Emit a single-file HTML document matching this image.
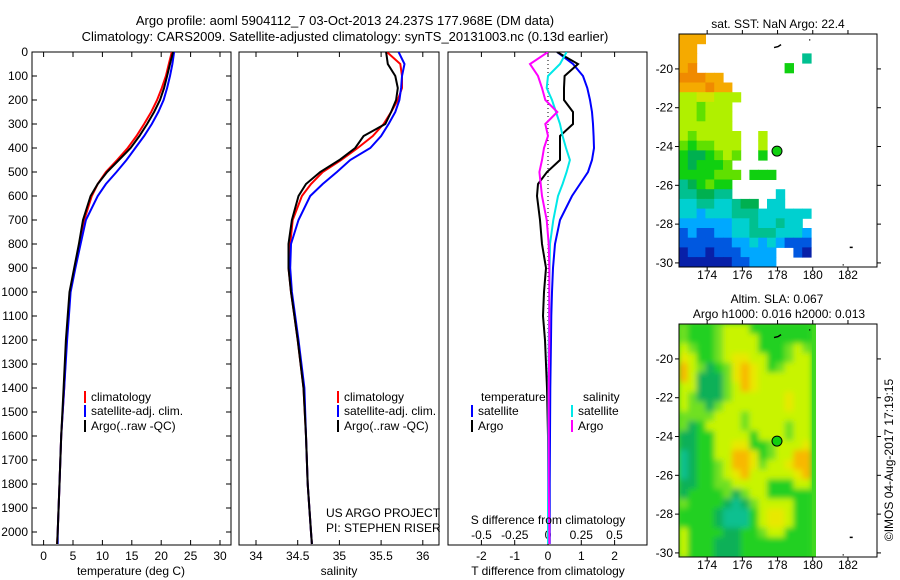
<!DOCTYPE html>
<html><head><meta charset="utf-8"><style>
html,body{margin:0;padding:0;background:#fff;width:900px;height:580px;overflow:hidden}
svg{display:block;font-family:"Liberation Sans",sans-serif;font-size:12px}
</style></head><body>
<svg id="chart" width="900" height="580" xmlns="http://www.w3.org/2000/svg">
<defs>
<clipPath id="cp1"><rect x="32" y="52" width="199" height="493"/></clipPath>
<clipPath id="cp2"><rect x="239" y="52" width="200" height="493"/></clipPath>
<clipPath id="cp3"><rect x="448" y="52" width="199" height="493"/></clipPath>
<clipPath id="cpm1"><rect x="679" y="34" width="198" height="233"/></clipPath>
<clipPath id="cpm2"><rect x="679" y="324" width="137" height="233"/></clipPath>
<filter id="blur" x="0" y="0" width="1" height="1"><feGaussianBlur stdDeviation="3" edgeMode="duplicate"/></filter>
</defs>
<text x="345" y="25" text-anchor="middle" font-size="13">Argo profile: aoml 5904112_7 03-Oct-2013 24.237S 177.968E (DM data)</text>
<text x="345" y="41" text-anchor="middle" font-size="13">Climatology: CARS2009. Satellite-adjusted climatology: synTS_20131003.nc (0.13d earlier)</text>
<g id="layer"></g>
</svg>
<script>
// ---- profile data ----
const pres = [0,50,100,150,200,250,300,350,400,450,500,550,600,700,800,900,1000,1100,1200,1400,1600,1800,2000,2050];
const tempClim = [21.8,21.3,20.8,20.1,19.3,18.3,17.1,15.8,14.3,12.5,10.6,9.2,8.2,6.9,6.2,5.3,4.5,4.2,3.9,3.5,3.0,2.7,2.4,2.3];
const tempArgo = [22.0,21.5,21.0,20.5,19.8,18.8,17.6,16.3,14.8,12.8,10.8,9.2,8.0,6.7,6.0,5.2,4.4,4.1,3.8,3.4,3.0,2.7,2.4,2.3];
const tempSat  = [22.2,21.9,21.5,21.0,20.4,19.5,18.4,17.1,15.6,14.1,12.4,10.6,9.2,7.2,6.3,5.4,4.6,4.3,4.0,3.5,3.0,2.7,2.4,2.4];
const salClim = [35.57,35.73,35.75,35.75,35.70,35.62,35.53,35.40,35.22,35.02,34.80,34.66,34.55,34.44,34.41,34.39,34.42,34.46,34.50,34.57,34.60,34.62,34.66,34.67];
const salArgo = [35.56,35.58,35.67,35.70,35.68,35.62,35.55,35.29,35.19,35.00,34.77,34.60,34.51,34.43,34.39,34.39,34.42,34.46,34.50,34.57,34.60,34.62,34.66,34.67];
const salSat  = [35.71,35.78,35.75,35.74,35.72,35.67,35.59,35.50,35.37,35.13,34.97,34.80,34.65,34.51,34.42,34.41,34.43,34.47,34.51,34.58,34.60,34.62,34.66,34.67];
const dTSat  = [0.27,0.75,1.05,1.18,1.26,1.32,1.35,1.37,1.38,1.32,1.2,0.96,0.72,0.36,0.21,0.15,0.12,0.10,0.09,0.07,0.06,0.05,0.05,0.05];
const dTArgo = [0.27,0.9,0.5,0.48,0.48,0.75,0.75,0.36,0.36,0.36,-0.03,-0.3,-0.33,-0.24,-0.18,-0.06,-0.12,-0.15,-0.09,-0.03,0.0,0.0,0.0,0.0];
const dSSat  = [0.14,0.09,0.0,-0.01,0.03,0.06,0.09,0.11,0.135,0.165,0.14,0.11,0.075,0.04,0.015,0.012,0.01,0.008,0.006,0.004,0.002,0.0,0.0,0.0];
const dSArgo = [0.0,-0.135,-0.075,-0.045,-0.02,0.07,-0.02,0.0,-0.03,-0.045,-0.065,-0.055,-0.045,-0.01,0.005,0.01,0.01,0.01,0.01,0.005,0.005,0.005,0.01,0.01];
const presTicks = [0,100,200,300,400,500,600,700,800,900,1000,1100,1200,1300,1400,1500,1600,1700,1800,1900,2000];
const tempTicks = [0,5,10,15,20,25,30];
const salTicks = [34,34.5,35,35.5,36];
const dTTicks = [-2,-1,0,1,2];
const dSTicks = [-0.5,-0.25,0,0.25,0.5];
const lonTicks = [174,176,178,180,182];
const latTicks = [-20,-22,-24,-26,-28,-30];
// SST map cells (0.5 deg, rows from -18.2 southward, cols from 172.4 eastward)
const sstRows = [
"OOO............","OO.............","OO............t","Oo..........G..","oooOO..........",
"OOOoOO.........","yyYYyyy........","yygyyy.........","yygyyy.........","yyyyyy.........",
"ygyyyyy..y.....","gGggyyy..y.....","GddGgyg..G.....","GdGGGg.........","GGGGggg.GGG....",
"tdGgGG.........","ttddtt.....c...","ccttcctdd.cc...","ccbccctttcccccc","bbbbbbcctcctcc.",
"BbBBbbcctttcccb","BBBBBBbbcbcbBBB","nBBnBBBbbbb..Bn","nnnnnnBBbbb....","nnnnnnnBBB.nnn."];
const slaRows = [
"gGGGgyyyGGGGGGG","gGGGgyyyyGGGGGG","ygGGgyyyyGGGgyg","YyGGgyYYyyGGgyy","OygdGgYOYyGgyyy",
"OydddgYOYyyyyyy","yydddgyOYyyyyyy","ygdddgyyyyyyYyy","yggdgyyyyyyyYyy","ggggyyygyyyyyyy",
"gdGyyyygyyyygyy","ddGGyyyyGyyygyy","ddGGyyYYGGgyyyY","tdGGyyOOYGgyyOO","tdGGgyOOYgyyYOO",
"tdGGgyYOyyyyyYO","ddGGggyyyyGGGyy","dGGGGgdgyyGGGGG","gGGGGdtdgyyyyGG","GGGGdtttGyYYyGG",
"GGGGdtttGyYYyGG","yGGGGddGGgyyGGG","yGGGdddGGGGGGGG","yGGGdddGGGGGGGG","gGGGdddGGGGGGGG"];
const sstPal = {O:"#f5aa00",o:"#f08a00",Y:"#d2e400",y:"#b0f000",g:"#60e000",G:"#10d010",d:"#00b050",t:"#00c090",c:"#00d0d0",b:"#00a8ff",B:"#0058e0",n:"#0820a8"};
const slaPal = {O:"#f8b800",Y:"#e8e800",y:"#c8f400",g:"#70e020",G:"#20d020",d:"#10b058",t:"#10c090"};

const NS="http://www.w3.org/2000/svg";
const layer=document.getElementById('layer');
function mk(tag,attrs,parent){const e=document.createElementNS(NS,tag);for(const k in attrs)e.setAttribute(k,attrs[k]);(parent||layer).appendChild(e);return e;}
const yP = p => 52 + 0.24*p;
const xT = t => 43.6 + 5.88*t;
const xS = s => 256 + 83.4*(s-34);
const xDT = d => 548 + 33.3*d;
const xDS = d => 548 + 133*d;
const lonX1 = l => 679 + (l-172.4)*17.6;
const latY1 = l => 34 + (-18.2-l)*19.4;
const latY2 = l => 324 + (-18.2-l)*19.4;

[[32,199,'temperature-panel'],[239,200,'salinity-panel'],[448,199,'difference-panel']].forEach(([x,w,n])=>{
  const r=mk('rect',{x:x,y:52,width:w,height:493,fill:'none',stroke:'#000','stroke-width':1});
  
  
});
presTicks.forEach(p=>{
  mk('line',{x1:32,x2:37,y1:yP(p),y2:yP(p),stroke:'#000'});
  mk('line',{x1:226,x2:231,y1:yP(p),y2:yP(p),stroke:'#000'});
  const t=mk('text',{x:28,y:yP(p)+4,'text-anchor':'end'});t.textContent=p;
  
  
});
function xticks(ticks,fx,name,labels){
  ticks.forEach((v,i)=>{
    const x=fx(v);
    mk('line',{x1:x,x2:x,y1:52,y2:57,stroke:'#000'});
    mk('line',{x1:x,x2:x,y1:540,y2:545,stroke:'#000'});
    if(labels){const t=mk('text',{x:x,y:560,'text-anchor':'middle'});t.textContent=v;
      
      }
  });
}
xticks(tempTicks,xT,'temperature-tick-label',true);
xticks(salTicks,xS,'salinity-tick-label',true);
xticks(dTTicks,xDT,'t-diff-tick-label',true);
dSTicks.forEach(v=>{const t=mk('text',{x:xDS(v),y:539,'text-anchor':'middle'});t.textContent=v;
  
  });

function line(vals,fx,color,clip,name){
  const pts=vals.map((v,i)=>fx(v).toFixed(1)+','+yP(pres[i]).toFixed(1)).join(' ');
  const l=mk('polyline',{points:pts,fill:'none',stroke:color,'stroke-width':2,'clip-path':'url(#'+clip+')'});
  
  
}
line(tempClim,xT,'#ff0000','cp1','temp-climatology-line');
line(tempSat,xT,'#0000ff','cp1','temp-satellite-line');
line(tempArgo,xT,'#000000','cp1','temp-argo-line');
line(salClim,xS,'#ff0000','cp2','sal-climatology-line');
line(salSat,xS,'#0000ff','cp2','sal-satellite-line');
line(salArgo,xS,'#000000','cp2','sal-argo-line');
mk('line',{x1:548,x2:548,y1:52,y2:545,stroke:'#000','stroke-dasharray':'1,3'});
line(dTSat,xDT,'#0000ff','cp3','t-diff-satellite-line');
line(dTArgo,xDT,'#000000','cp3','t-diff-argo-line');
line(dSSat,xDS,'#00e8e8','cp3','s-diff-satellite-line');
line(dSArgo,xDS,'#ff00ff','cp3','s-diff-argo-line');

function legend(x,y,color,label,name){
  mk('rect',{x:x,y:y-6,width:2,height:12,fill:color});
  const t=mk('text',{x:x+7,y:y+4});t.textContent=label;
  
  
}
legend(84,397,'#ff0000','climatology','legend-climatology');
legend(84,411,'#0000ff','satellite-adj. clim.','legend-satellite-adj');
legend(84,426,'#000000','Argo(..raw -QC)','legend-argo');
legend(337,397,'#ff0000','climatology','legend-climatology-2');
legend(337,411,'#0000ff','satellite-adj. clim.','legend-satellite-adj-2');
legend(337,426,'#000000','Argo(..raw -QC)','legend-argo-2');
legend(471,411,'#0000ff','satellite','legend-t-satellite');
legend(471,426,'#000000','Argo','legend-t-argo');
legend(571,411,'#00e8e8','satellite','legend-s-satellite');
legend(571,426,'#ff00ff','Argo','legend-s-argo');
function txt(x,y,s,name,anchor,extra){const t=mk('text',Object.assign({x:x,y:y,'text-anchor':anchor||'start'},extra||{}));t.textContent=s;
  
  return t;}
txt(481,401,'temperature','legend-heading-temperature');
txt(583,401,'salinity','legend-heading-salinity');
txt(326,517,'US ARGO PROJECT','project-label');
txt(326,532,'PI: STEPHEN RISER','pi-label');
txt(548,524,'S difference from climatology','s-diff-axis-title','middle');
txt(131,575,'temperature (deg C)','temperature-axis-title','middle');
txt(339,575,'salinity','salinity-axis-title','middle');
txt(548,575,'T difference from climatology','t-diff-axis-title','middle');

function drawMap(rows,pal,latY,clip,grp){
  const g=mk('g',{'clip-path':'url(#'+clip+')'});
  const inner = grp ? mk('g',grp,g) : g;
  rows.forEach((r,i)=>{
    for(let j=0;j<r.length;j++){
      const c=r[j]; if(c==='.')continue;
      const lon=172.4+0.5*j, lat=-18.2-0.5*i;
      const x=lonX1(lon), y=latY(lat);
      const cell=mk('rect',{x:x.toFixed(1),y:y.toFixed(1),width:9.4,height:10.2,fill:pal[c]},inner);
      
      
    }
  });
  return g;
}
drawMap(sstRows,sstPal,latY1,'cpm1');
mk('rect',{x:679,y:324,width:137,height:233,fill:'#40d820'});
drawMap(slaRows,slaPal,latY2,'cpm2',{filter:'url(#blur)'});
[[34,267,latY1,'sst-map',279],[324,557,latY2,'sla-map',569]].forEach(([y0,y1,fy,n,ly])=>{
  const r=mk('rect',{x:679,y:y0,width:198,height:y1-y0,fill:'none',stroke:'#000'});
  
  
  lonTicks.forEach(l=>{const x=lonX1(l);
    mk('line',{x1:x,x2:x,y1:y0-4,y2:y0,stroke:'#000'});
    mk('line',{x1:x,x2:x,y1:y1,y2:y1+4,stroke:'#000'});
    txt(x,ly,l,n+'-lon-label','middle');});
  latTicks.forEach(l=>{const y=fy(l);
    mk('line',{x1:675,x2:679,y1:y,y2:y,stroke:'#000'});
    mk('line',{x1:877,x2:881,y1:y,y2:y,stroke:'#000'});
    txt(673,y+4,l,n+'-lat-label','end');});
  const c=mk('circle',{cx:lonX1(177.968),cy:fy(-24.237),r:5,fill:'#10d010',stroke:'#000'});
  
  
  mk('path',{d:`M${lonX1(177.8)} ${fy(-18.9)} l4 -1 l3 -2 M${lonX1(179.8)} ${fy(-18.5)} l1 0 M${lonX1(182.1)} ${fy(-29.2)} l3 0 M${lonX1(181.7)} ${fy(-30.1)} l1 0`,stroke:'#000','stroke-width':1.5,fill:'none'});
});
txt(778,28,'sat. SST: NaN Argo: 22.4','sst-map-title','middle');
txt(777,303,'Altim. SLA: 0.067','sla-map-title','middle');
txt(779,318,'Argo h1000: 0.016 h2000: 0.013','sla-map-subtitle','middle');
txt(0,0,'©IMOS 04-Aug-2017 17:19:15','imos-credit','middle',{transform:'translate(893,460) rotate(-90)'});
</script>
</body></html>
